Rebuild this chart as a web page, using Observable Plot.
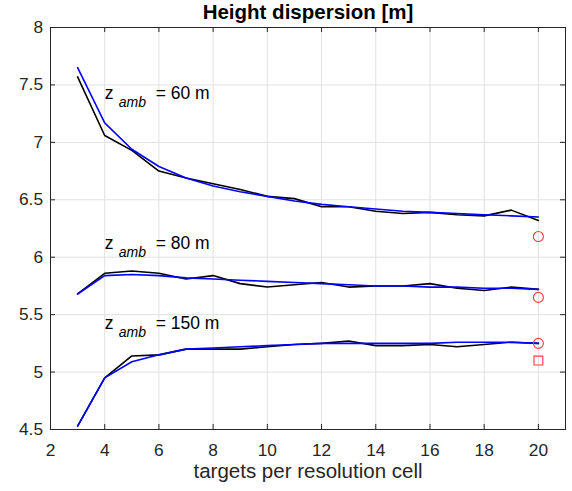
<!DOCTYPE html>
<html><head><meta charset="utf-8">
<script src="https://cdn.jsdelivr.net/npm/d3@7"></script>
<script src="https://cdn.jsdelivr.net/npm/@observablehq/plot@0.6"></script>
<style>body{margin:0;background:#fff;}</style>
</head><body><div id="chart"></div>
<script>
const targets = [3,4,5,6,7,8,9,10,11,12,13,14,15,16,17,18,19,20];
const sim60 = [7.57,7.06,6.93,6.75,6.69,6.64,6.59,6.53,6.51,6.44,6.44,6.40,6.38,6.39,6.37,6.36,6.41,6.32];
const fit60 = [7.65,7.17,6.94,6.79,6.69,6.62,6.57,6.53,6.49,6.46,6.44,6.42,6.40,6.39,6.38,6.37,6.36,6.35];
const sim80 = [5.68,5.86,5.88,5.86,5.81,5.84,5.77,5.74,5.76,5.78,5.74,5.75,5.75,5.77,5.73,5.71,5.74,5.72];
const fit80 = [5.68,5.84,5.85,5.84,5.82,5.81,5.80,5.79,5.78,5.77,5.76,5.75,5.75,5.74,5.74,5.73,5.73,5.72];
const sim150 = [4.53,4.95,5.14,5.15,5.20,5.20,5.20,5.22,5.24,5.25,5.27,5.23,5.23,5.24,5.22,5.24,5.26,5.25];
const fit150 = [4.53,4.95,5.09,5.15,5.20,5.21,5.22,5.23,5.24,5.25,5.25,5.25,5.25,5.25,5.26,5.26,5.26,5.25];
const circleX = [20,20,20];
const circleY = [6.18,5.65,5.25];
const squareX = [20];
const squareY = [5.10];
const xTicks = [2,4,6,8,10,12,14,16,18,20];
const yTicks = [4.5,5,5.5,6,6.5,7,7.5,8];
const labelNames = ["60 m","80 m","150 m"];
const labelX = [4,4,4];
const labelY = [7.38,6.07,5.375];

const series = [["60",sim60,"sim"],["60",fit60,"fit"],["80",sim80,"sim"],["80",fit80,"fit"],["150",sim150,"sim"],["150",fit150,"fit"]];
const rows = series.flatMap(([s,vals,kind]) => vals.map((v,i)=>({series:s, kind, x:targets[i], y:v})));
const circles = circleX.map((x,i)=>({x, y:circleY[i]}));
const squares = squareX.map((x,i)=>({x, y:squareY[i]}));
const labels = labelNames.map((t,i)=>({t, x:labelX[i], y:labelY[i]}));

const W=572, H=491, mL=50, mR=7, mT=27, mB=62;
const pH = H-mT-mB, pW = W-mL-mR;
const ink = "#262626";
const chart = Plot.plot({
  width: W, height: H,
  marginLeft: mL, marginRight: mR, marginTop: mT, marginBottom: mB,
  x: {domain:[2,21]},
  y: {domain:[4.5,8]},
  style: {fontFamily: "'Liberation Sans', Arial, sans-serif", background:"#fff", color: ink},
  marks: [
    Plot.gridX(xTicks, {stroke:"#e1e1e1", strokeOpacity:1}),
    Plot.gridY(yTicks, {stroke:"#e1e1e1", strokeOpacity:1}),
    Plot.line(rows.filter(d=>d.kind==="sim"), {x:"x", y:"y", z:"series", stroke:"#000", strokeWidth:1.6}),
    Plot.line(rows.filter(d=>d.kind==="fit"), {x:"x", y:"y", z:"series", stroke:"#0000ff", strokeWidth:1.6}),
    Plot.dot(circles, {x:"x", y:"y", r:5, stroke:"#ff3b3b", strokeWidth:1.1, fill:"none"}),
    Plot.dot(squares, {x:"x", y:"y", r:5, symbol:"square", stroke:"#ff3b3b", strokeWidth:1.1, fill:"none"}),
    Plot.frame({stroke: ink}),
    Plot.tickX(xTicks, {stroke: ink, insetTop: pH-5}),
    Plot.tickX(xTicks, {stroke: ink, insetBottom: pH-5}),
    Plot.tickY(yTicks, {stroke: ink, insetRight: pW-5}),
    Plot.tickY(yTicks, {stroke: ink, insetLeft: pW-5}),
    Plot.axisX(xTicks, {tickSize:0, tickPadding:14, fontSize:17.3, label:null, color: ink}),
    Plot.axisY(yTicks, {tickSize:0, tickPadding:7.5, fontSize:17.3, label:null, color: ink, tickFormat: d=>String(d)}),
    Plot.text(["targets per resolution cell"], {frameAnchor:"bottom", dy:48, fontSize:20.5, fill: ink}),
    Plot.text(["Height dispersion [m]"], {frameAnchor:"top", lineAnchor:"bottom", dy:-8.5, fontSize:20.5, fontWeight:"bold", fill:"#000"}),
    Plot.text(labels, {x:"x", y:"y", text:()=>"z", textAnchor:"start", lineAnchor:"bottom", dx:0, fontSize:17.5, fill:"#000"}),
    Plot.text(labels, {x:"x", y:"y", text:()=>"amb", textAnchor:"start", lineAnchor:"bottom", dx:14, dy:8, fontSize:14, fontStyle:"italic", fill:"#000"}),
    Plot.text(labels, {x:"x", y:"y", text:d=>"= " + d.t, textAnchor:"start", lineAnchor:"bottom", dx:51, fontSize:17.5, fill:"#000"})
  ]
});
document.getElementById("chart").appendChild(chart);
</script>
</body></html>
